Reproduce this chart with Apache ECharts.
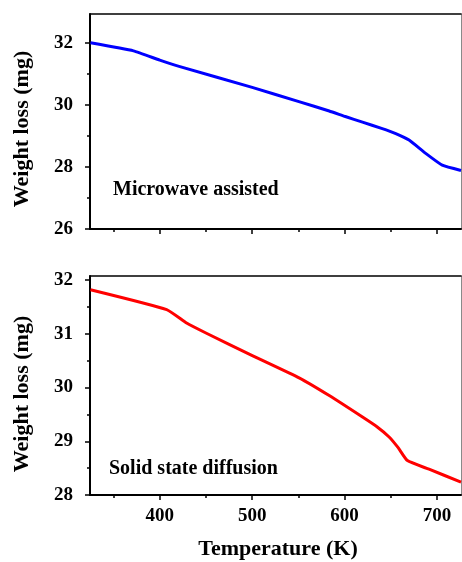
<!DOCTYPE html>
<html><head><meta charset="utf-8">
<script src="https://cdn.jsdelivr.net/npm/echarts@6/dist/echarts.min.js"></script>
<style>html,body{margin:0;padding:0;background:#fff}#c{width:462px;height:562px}</style>
</head><body><div id="c"></div>
<script>
// Top panel: Microwave assisted
const tempTop   = [325, 371.6, 400, 421.8, 500, 550.6, 583.4, 600.8, 619.4, 640, 655.4, 669.8, 687.8, 705.7, 726];
const weightTop = [32.01, 31.75, 31.45, 31.24, 30.57, 30.11, 29.81, 29.63, 29.45, 29.25, 29.08, 28.87, 28.44, 28.06, 27.89];
// Bottom panel: Solid state diffusion
const tempBottom   = [325, 407.5, 429, 450.5, 500.7, 550.8, 583.4, 619.4, 635, 648.2, 658, 668, 691.4, 726];
const weightBottom = [31.82, 31.45, 31.20, 31.01, 30.59, 30.18, 29.85, 29.45, 29.27, 29.08, 28.88, 28.64, 28.48, 28.24];

const xMajor = [400, 500, 600, 700];
const xMinor = [350, 450, 550, 650];
const yTopMajor = [26, 28, 30, 32];
const yTopMinor = [27, 29, 31];
const yBotMajor = [28, 29, 30, 31, 32];
const yBotMinor = [28.5, 29.5, 30.5, 31.5];

const FONT = '"Liberation Serif", "Times New Roman", serif';
const lab = {fontFamily: FONT, fontWeight: 'bold', fontSize: 19, color: '#000'};
const axLine = {show: true, onZero: false, lineStyle: {color: '#000', width: 2}};

function xAxes(grid, showLabels) {
  return [
    {type: 'value', gridIndex: grid, position: 'bottom', min: 324.5, max: 726,
     axisLine: axLine, splitLine: {show: false},
     axisTick: {show: true, length: 5, lineStyle: {color: '#000', width: 1.5}, customValues: xMajor},
     axisLabel: Object.assign({show: showLabels, margin: 12, customValues: xMajor}, lab)},
    {type: 'value', gridIndex: grid, position: 'bottom', min: 324.5, max: 726,
     axisLine: {show: false, onZero: false}, splitLine: {show: false},
     axisTick: {show: true, length: 3, lineStyle: {color: '#000', width: 1.5}, customValues: xMinor},
     axisLabel: {show: false}},
    {type: 'value', gridIndex: grid, position: 'top', min: 324.5, max: 726,
     axisLine: {show: true, onZero: false, lineStyle: {color: '#000', width: 1.5}},
     splitLine: {show: false}, axisTick: {show: false}, axisLabel: {show: false}}
  ];
}
function yAxes(grid, min, max, major, minor) {
  return [
    {type: 'value', gridIndex: grid, position: 'left', min: min, max: max,
     axisLine: axLine, splitLine: {show: false},
     axisTick: {show: true, length: 5, lineStyle: {color: '#000', width: 1.5}, customValues: major},
     axisLabel: Object.assign({margin: 17, customValues: major}, lab)},
    {type: 'value', gridIndex: grid, position: 'left', min: min, max: max,
     axisLine: {show: false, onZero: false}, splitLine: {show: false},
     axisTick: {show: true, length: 3, lineStyle: {color: '#000', width: 1.5}, customValues: minor},
     axisLabel: {show: false}},
    {type: 'value', gridIndex: grid, position: 'right', min: min, max: max,
     axisLine: {show: true, onZero: false, lineStyle: {color: '#8a8a8a', width: 1}},
     splitLine: {show: false}, axisTick: {show: false}, axisLabel: {show: false}}
  ];
}

const chart = echarts.init(document.getElementById('c'), null, {renderer: 'canvas'});
chart.setOption({
  animation: false,
  backgroundColor: '#fff',
  grid: [
    {left: 90, top: 14, right: 1, height: 215},
    {left: 90, top: 276, right: 1, height: 219}
  ],
  xAxis: xAxes(0, false).concat(xAxes(1, true)),
  yAxis: yAxes(0, 26, 32.94, yTopMajor, yTopMinor).concat(yAxes(1, 28, 32.075, yBotMajor, yBotMinor)),
  series: [
    {type: 'line', xAxisIndex: 0, yAxisIndex: 0, showSymbol: false, smooth: 0.15,
     data: tempTop.map((t, i) => [t, weightTop[i]]), lineStyle: {color: '#0000ff', width: 3, join: 'round'}},
    {type: 'line', xAxisIndex: 3, yAxisIndex: 3, showSymbol: false, smooth: 0.15,
     data: tempBottom.map((t, i) => [t, weightBottom[i]]), lineStyle: {color: '#ff0000', width: 3, join: 'round'}}
  ],
  graphic: [
    {type: 'text', x: 22, y: 129, rotation: Math.PI / 2,
     style: {text: 'Weight loss (mg)', font: 'bold 22px ' + FONT, fill: '#000', align: 'center', verticalAlign: 'middle'}},
    {type: 'text', x: 22, y: 394, rotation: Math.PI / 2,
     style: {text: 'Weight loss (mg)', font: 'bold 22px ' + FONT, fill: '#000', align: 'center', verticalAlign: 'middle'}},
    {type: 'text', x: 278, y: 549,
     style: {text: 'Temperature (K)', font: 'bold 22px ' + FONT, fill: '#000', align: 'center', verticalAlign: 'middle'}},
    {type: 'text', x: 113, y: 190,
     style: {text: 'Microwave assisted', font: 'bold 20px ' + FONT, fill: '#000', align: 'left', verticalAlign: 'middle'}},
    {type: 'text', x: 109, y: 469,
     style: {text: 'Solid state diffusion', font: 'bold 20px ' + FONT, fill: '#000', align: 'left', verticalAlign: 'middle'}}
  ]
});
</script></body></html>
